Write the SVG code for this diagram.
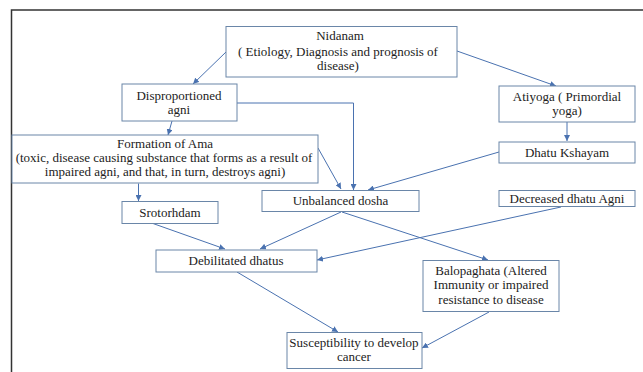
<svg xmlns="http://www.w3.org/2000/svg" width="643" height="372" viewBox="0 0 643 372">
<style>
.box{fill:#fff;stroke:#6a86a8;stroke-width:1}
.t{font-family:"Liberation Serif","Times New Roman",serif;font-size:13px;fill:#222;text-anchor:middle}
.c{fill:none;stroke:#4a72b0;stroke-width:1;marker-end:url(#ah)}
</style>
<defs>
<marker id="ah" markerUnits="userSpaceOnUse" markerWidth="7" markerHeight="6" refX="6" refY="3" orient="auto">
<path d="M0,0 L6,3 L0,6 Z" fill="#4a72b0"/>
</marker>
</defs>
<rect width="643" height="372" fill="#fff"/>
<path d="M11.5,372 V10 H643" fill="none" stroke="#333" stroke-width="1.5"/>
<g id="connectors">
<path class="c" d="M226,52 L193,84"/>
<path class="c" d="M457,51 L556,86"/>
<path class="c" d="M237,103 H353.5 V190"/>
<path class="c" d="M172,121 L168,135"/>
<path class="c" d="M567,122 V141"/>
<path class="c" d="M499,152 L368,190"/>
<path class="c" d="M318,148 L341,189"/>
<path class="c" d="M138.5,183.5 V201"/>
<path class="c" d="M153,223.5 L225,249"/>
<path class="c" d="M341,212 L260,249"/>
<path class="c" d="M342,212 L488,260"/>
<path class="c" d="M561,207 L317,260"/>
<path class="c" d="M237,272 L338,332"/>
<path class="c" d="M489,312 L422,348"/>
</g>
<g id="nidanam">
<rect class="box" x="226" y="26.5" width="231" height="50.5"/>
<text class="t" x="340" y="40">Nidanam</text>
<text class="t" x="338" y="56">( Etiology, Diagnosis and prognosis of</text>
<text class="t" x="338" y="70">disease)</text>
</g>
<g id="disproportioned">
<rect class="box" x="122" y="84" width="115" height="37"/>
<text class="t" x="179" y="100">Disproportioned</text>
<text class="t" x="179" y="114">agni</text>
</g>
<g id="atiyoga">
<rect class="box" x="499" y="86" width="136" height="36"/>
<text class="t" x="567" y="101">Atiyoga ( Primordial</text>
<text class="t" x="567" y="115">yoga)</text>
</g>
<g id="ama">
<rect class="box" x="12" y="135" width="306" height="48"/>
<text class="t" x="165" y="148">Formation of Ama</text>
<text class="t" x="164" y="162">(toxic, disease causing substance that forms as a result of</text>
<text class="t" x="165" y="176">impaired agni, and that, in turn, destroys agni)</text>
</g>
<g id="dhatu-kshayam">
<rect class="box" x="499" y="142" width="136" height="21"/>
<text class="t" x="567" y="156.5">Dhatu Kshayam</text>
</g>
<g id="unbalanced-dosha">
<rect class="box" x="262" y="190.5" width="157" height="21"/>
<text class="t" x="340.5" y="205">Unbalanced dosha</text>
</g>
<g id="decreased">
<rect class="box" x="499" y="190.5" width="136" height="16"/>
<text class="t" x="567" y="203">Decreased dhatu Agni</text>
</g>
<g id="srotorhdam">
<rect class="box" x="122" y="201.5" width="96" height="22"/>
<text class="t" x="170" y="216.5">Srotorhdam</text>
</g>
<g id="debilitated">
<rect class="box" x="156" y="250" width="161" height="22"/>
<text class="t" x="236" y="265">Debilitated  dhatus</text>
</g>
<g id="balopaghata">
<rect class="box" x="423" y="260.5" width="136" height="51"/>
<text class="t" x="491" y="275">Balopaghata (Altered</text>
<text class="t" x="491" y="289">Immunity  or impaired</text>
<text class="t" x="491" y="304">resistance to disease</text>
</g>
<g id="susceptibility">
<rect class="box" x="287" y="332.5" width="135" height="36"/>
<text class="t" x="354" y="347">Susceptibility to develop</text>
<text class="t" x="354" y="361">cancer</text>
</g>
</svg>
